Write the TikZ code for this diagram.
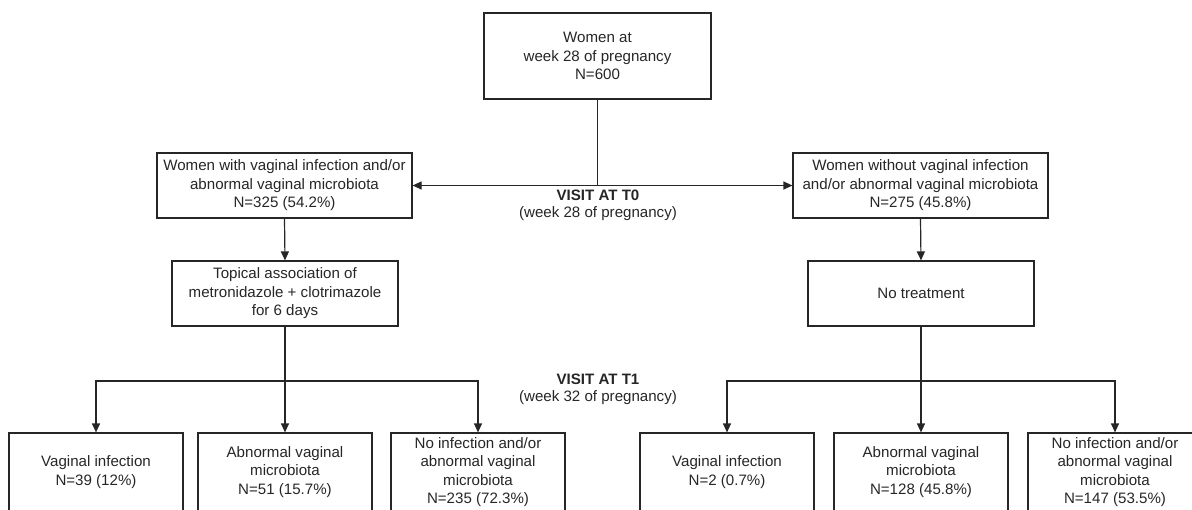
\documentclass[tikz,border=0pt]{standalone}
\usepackage{fontspec}
\setmainfont{Liberation Sans}
\usetikzlibrary{arrows.meta}
\begin{document}
\begin{tikzpicture}[x=1pt,y=-1pt,
  box/.style={draw=black!85,line width=1.2pt,align=center,inner sep=0pt,
    font=\fontsize{15.1}{18.5}\selectfont,text=black!85},
  bigbox/.style={box,minimum width=255pt,minimum height=65pt},
  midbox/.style={box,minimum width=226pt,minimum height=65pt},
  leafbox/.style={box,minimum width=174pt,minimum height=78pt},
  arr/.style={draw=black!85,line width=1.2pt,-{Triangle[length=9pt,width=8pt]}},
  ln/.style={draw=black!85,line width=1.2pt},
  lbl/.style={align=center,inner sep=0pt,text=black!85,font=\fontsize{15.1}{17}\selectfont}]
\useasboundingbox (0,0) rectangle (1192,509);
% top
\node[box,minimum width=227pt,minimum height=86pt] (top) at (597.5,56) {Women at\\week 28 of pregnancy\\N=600};
% level 1
\node[bigbox] (L1) at (284.5,185.5) {Women with vaginal infection and/or\\abnormal vaginal microbiota\\N=325 (54.2\%)};
\node[bigbox] (R1) at (920.5,185.5) {Women without vaginal infection\\and/or abnormal vaginal microbiota\\N=275 (45.8\%)};
% level 2
\node[midbox] (L2) at (285,293.5) {Topical association of\\metronidazole + clotrimazole\\for 6 days};
\node[midbox] (R2) at (921,293.5) {No treatment};
% labels
\node[lbl] (t0) at (598,205) {\textbf{VISIT AT T0}\\(week 28 of pregnancy)};
\node[lbl] (t1) at (598,389) {\textbf{VISIT AT T1}\\(week 32 of pregnancy)};
% leaves
\node[leafbox] (a1) at (96,472) {Vaginal infection\\N=39 (12\%)};
\node[leafbox] (a2) at (285,472) {Abnormal vaginal\\microbiota\\N=51 (15.7\%)};
\node[leafbox] (a3) at (478,472) {No infection and/or\\abnormal vaginal\\microbiota\\N=235 (72.3\%)};
\node[leafbox] (b1) at (727,472) {Vaginal infection\\N=2 (0.7\%)};
\node[leafbox] (b2) at (921,472) {Abnormal vaginal\\microbiota\\N=128 (45.8\%)};
\node[leafbox] (b3) at (1115,472) {No infection and/or\\abnormal vaginal\\microbiota\\N=147 (53.5\%)};
% connectors
\coordinate (j0) at (top.south |- L1.east);
\draw[ln] (top.south) -- (j0);
\draw[arr] (j0) -- (L1.east);
\draw[arr] (j0) -- (R1.west);
\draw[arr] (L1.south) -- (L2.north);
\draw[arr] (R1.south) -- (R2.north);
% T1 left
\coordinate (jl) at (285,381);
\draw[arr] (L2.south) -- (a2.north);
\draw[arr] (jl) -| (a1.north);
\draw[arr] (jl) -| (a3.north);
% T1 right
\coordinate (jr) at (921,381);
\draw[arr] (R2.south) -- (b2.north);
\draw[arr] (jr) -| (b1.north);
\draw[arr] (jr) -| (b3.north);
\end{tikzpicture}
\end{document}
